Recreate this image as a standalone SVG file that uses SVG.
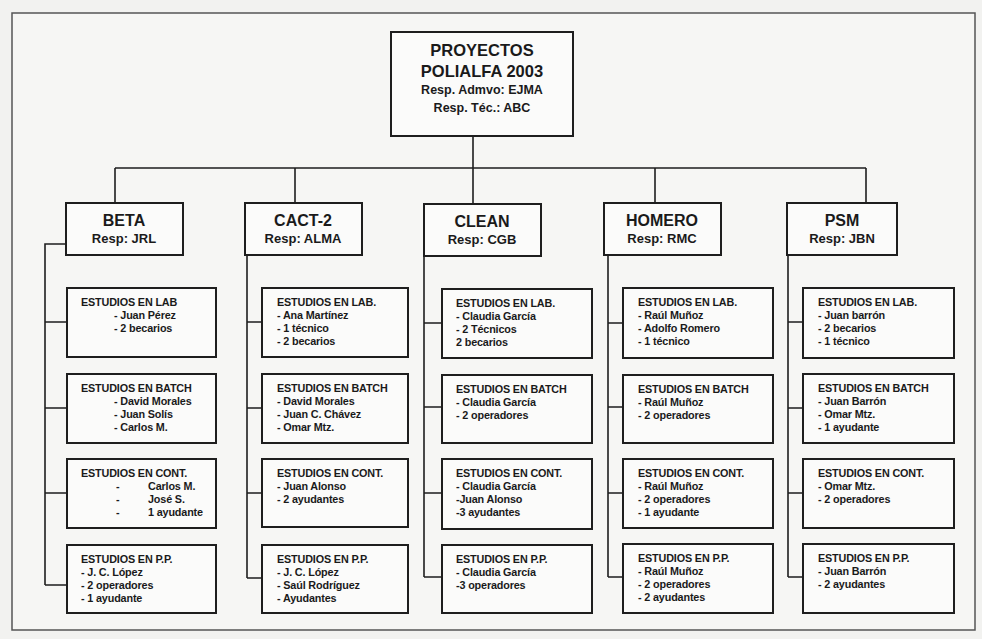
<svg xmlns="http://www.w3.org/2000/svg" width="982" height="639" viewBox="0 0 982 639">
  <style>
    .box { fill: #fbfbfa; stroke: #1e1e1e; stroke-width: 2; }
    .wire { fill: none; stroke: #1e1e1e; stroke-width: 1.6; }
    text { font-family: "Liberation Sans", Arial, sans-serif; fill: #1a1a1a; font-weight: bold; }
    .t1 { font-size: 16.5px; text-anchor: middle; }
    .t2 { font-size: 12.5px; text-anchor: middle; }
    .h1 { font-size: 16px; text-anchor: middle; }
    .h2 { font-size: 13px; text-anchor: middle; }
    .s { font-size: 10.8px; letter-spacing: -0.15px; }
  </style>
  <rect x="0" y="0" width="982" height="639" fill="#f2f2f0"/>
  <rect x="12" y="13" width="963" height="617" fill="#f6f6f4" stroke="#555" stroke-width="1.5"/>

  <!-- connectors -->
  <g id="connectors">
    <path class="wire" d="M473 136 V168 M115 168 H866 M115 168 V203 M295 168 V203 M473 168 V203 M655 168 V203 M866 168 V203"/>
    <path class="wire" d="M66 244 H45 V585 M45 322 H67 M45 408 H67 M45 493 H67 M45 585 H67"/>
    <path class="wire" d="M247 255 V578 M247 322 H262 M247 408 H262 M247 493 H262 M247 578 H262"/>
    <path class="wire" d="M424 255 V577 M424 323 H442 M424 407 H442 M424 493 H442 M424 577 H442"/>
    <path class="wire" d="M608 255 V577 M608 323 H623 M608 407 H623 M608 493 H623 M608 577 H623"/>
    <path class="wire" d="M788 255 V577 M788 322 H803 M788 408 H803 M788 493 H803 M788 577 H803"/>
  </g>

  <!-- root -->
  <g id="root">
    <rect class="box" x="391" y="32" width="182" height="104"/>
    <text class="t1" x="482" y="56">PROYECTOS</text>
    <text class="t1" x="482" y="77">POLIALFA 2003</text>
    <text class="t2" x="482" y="94">Resp. Admvo: EJMA</text>
    <text class="t2" x="482" y="112">Resp. Téc.: ABC</text>
  </g>

  <!-- project headers -->
  <g id="beta">
    <rect class="box" x="66" y="203" width="117" height="52"/>
    <text class="h1" x="124" y="226">BETA</text>
    <text class="h2" x="124" y="243">Resp: JRL</text>
  </g>
  <g id="cact2">
    <rect class="box" x="245" y="203" width="117" height="52"/>
    <text class="h1" x="303" y="226">CACT-2</text>
    <text class="h2" x="303" y="243">Resp: ALMA</text>
  </g>
  <g id="clean">
    <rect class="box" x="424" y="204" width="117" height="52"/>
    <text class="h1" x="482" y="227">CLEAN</text>
    <text class="h2" x="482" y="244">Resp: CGB</text>
  </g>
  <g id="homero">
    <rect class="box" x="604" y="203" width="117" height="52"/>
    <text class="h1" x="662" y="226">HOMERO</text>
    <text class="h2" x="662" y="243">Resp: RMC</text>
  </g>
  <g id="psm">
    <rect class="box" x="787" y="203" width="110" height="52"/>
    <text class="h1" x="842" y="226">PSM</text>
    <text class="h2" x="842" y="243">Resp: JBN</text>
  </g>

  <!-- BETA studies -->
  <g id="beta-lab">
    <rect class="box" x="67" y="288" width="149" height="69"/>
    <text class="s" x="81" y="306">ESTUDIOS EN LAB</text>
    <text class="s" x="114" y="319">- Juan Pérez</text>
    <text class="s" x="114" y="332">- 2 becarios</text>
  </g>
  <g id="beta-batch">
    <rect class="box" x="67" y="374" width="149" height="69"/>
    <text class="s" x="81" y="392">ESTUDIOS EN BATCH</text>
    <text class="s" x="114" y="405">- David Morales</text>
    <text class="s" x="114" y="418">- Juan Solís</text>
    <text class="s" x="114" y="431">- Carlos M.</text>
  </g>
  <g id="beta-cont">
    <rect class="box" x="67" y="459" width="149" height="69"/>
    <text class="s" x="81" y="477">ESTUDIOS EN  CONT.</text>
    <text class="s" x="116" y="490">-</text><text class="s" x="148" y="490">Carlos M.</text>
    <text class="s" x="116" y="503">-</text><text class="s" x="148" y="503">José S.</text>
    <text class="s" x="116" y="516">-</text><text class="s" x="148" y="516">1 ayudante</text>
  </g>
  <g id="beta-pp">
    <rect class="box" x="67" y="545" width="149" height="68"/>
    <text class="s" x="81" y="563">ESTUDIOS EN P.P.</text>
    <text class="s" x="81" y="576">- J. C. López</text>
    <text class="s" x="81" y="589">- 2 operadores</text>
    <text class="s" x="81" y="602">- 1 ayudante</text>
  </g>

  <!-- CACT-2 studies -->
  <g id="cact2-lab">
    <rect class="box" x="262" y="288" width="146" height="69"/>
    <text class="s" x="277" y="306">ESTUDIOS EN LAB.</text>
    <text class="s" x="277" y="319">- Ana Martínez</text>
    <text class="s" x="277" y="332">- 1 técnico</text>
    <text class="s" x="277" y="345">- 2 becarios</text>
  </g>
  <g id="cact2-batch">
    <rect class="box" x="262" y="374" width="146" height="69"/>
    <text class="s" x="277" y="392">ESTUDIOS EN BATCH</text>
    <text class="s" x="277" y="405">- David Morales</text>
    <text class="s" x="277" y="418">- Juan C. Chávez</text>
    <text class="s" x="277" y="431">- Omar Mtz.</text>
  </g>
  <g id="cact2-cont">
    <rect class="box" x="262" y="459" width="146" height="68"/>
    <text class="s" x="277" y="477">ESTUDIOS EN CONT.</text>
    <text class="s" x="277" y="490">- Juan Alonso</text>
    <text class="s" x="277" y="503">- 2 ayudantes</text>
  </g>
  <g id="cact2-pp">
    <rect class="box" x="262" y="545" width="146" height="68"/>
    <text class="s" x="277" y="563">ESTUDIOS EN P.P.</text>
    <text class="s" x="277" y="576">- J. C. López</text>
    <text class="s" x="277" y="589">- Saúl Rodríguez</text>
    <text class="s" x="277" y="602">- Ayudantes</text>
  </g>

  <!-- CLEAN studies -->
  <g id="clean-lab">
    <rect class="box" x="442" y="289" width="150" height="69"/>
    <text class="s" x="456" y="307">ESTUDIOS EN LAB.</text>
    <text class="s" x="456" y="320">- Claudia García</text>
    <text class="s" x="456" y="333">- 2 Técnicos</text>
    <text class="s" x="456" y="346">2 becarios</text>
  </g>
  <g id="clean-batch">
    <rect class="box" x="442" y="375" width="150" height="68"/>
    <text class="s" x="456" y="393">ESTUDIOS EN BATCH</text>
    <text class="s" x="456" y="406">- Claudia García</text>
    <text class="s" x="456" y="419">- 2 operadores</text>
  </g>
  <g id="clean-cont">
    <rect class="box" x="442" y="459" width="150" height="70"/>
    <text class="s" x="456" y="477">ESTUDIOS EN CONT.</text>
    <text class="s" x="456" y="490">- Claudia García</text>
    <text class="s" x="456" y="503">-Juan Alonso</text>
    <text class="s" x="456" y="516">-3 ayudantes</text>
  </g>
  <g id="clean-pp">
    <rect class="box" x="442" y="545" width="150" height="68"/>
    <text class="s" x="456" y="563">ESTUDIOS EN P.P.</text>
    <text class="s" x="456" y="576">- Claudia García</text>
    <text class="s" x="456" y="589">-3 operadores</text>
  </g>

  <!-- HOMERO studies -->
  <g id="homero-lab">
    <rect class="box" x="623" y="288" width="150" height="70"/>
    <text class="s" x="638" y="306">ESTUDIOS EN LAB.</text>
    <text class="s" x="638" y="319">- Raúl Muñoz</text>
    <text class="s" x="638" y="332">- Adolfo Romero</text>
    <text class="s" x="638" y="345">- 1 técnico</text>
  </g>
  <g id="homero-batch">
    <rect class="box" x="623" y="375" width="150" height="68"/>
    <text class="s" x="638" y="393">ESTUDIOS EN BATCH</text>
    <text class="s" x="638" y="406">- Raúl Muñoz</text>
    <text class="s" x="638" y="419">- 2 operadores</text>
  </g>
  <g id="homero-cont">
    <rect class="box" x="623" y="459" width="150" height="69"/>
    <text class="s" x="638" y="477">ESTUDIOS EN CONT.</text>
    <text class="s" x="638" y="490">- Raúl Muñoz</text>
    <text class="s" x="638" y="503">- 2 operadores</text>
    <text class="s" x="638" y="516">- 1 ayudante</text>
  </g>
  <g id="homero-pp">
    <rect class="box" x="623" y="544" width="150" height="69"/>
    <text class="s" x="638" y="562">ESTUDIOS EN P.P.</text>
    <text class="s" x="638" y="575">- Raúl Muñoz</text>
    <text class="s" x="638" y="588">- 2 operadores</text>
    <text class="s" x="638" y="601">- 2 ayudantes</text>
  </g>

  <!-- PSM studies -->
  <g id="psm-lab">
    <rect class="box" x="803" y="288" width="151" height="70"/>
    <text class="s" x="818" y="306">ESTUDIOS EN LAB.</text>
    <text class="s" x="818" y="319">- Juan barrón</text>
    <text class="s" x="818" y="332">- 2 becarios</text>
    <text class="s" x="818" y="345">- 1 técnico</text>
  </g>
  <g id="psm-batch">
    <rect class="box" x="803" y="374" width="151" height="69"/>
    <text class="s" x="818" y="392">ESTUDIOS EN BATCH</text>
    <text class="s" x="818" y="405">- Juan Barrón</text>
    <text class="s" x="818" y="418">- Omar Mtz.</text>
    <text class="s" x="818" y="431">- 1 ayudante</text>
  </g>
  <g id="psm-cont">
    <rect class="box" x="803" y="459" width="151" height="69"/>
    <text class="s" x="818" y="477">ESTUDIOS EN CONT.</text>
    <text class="s" x="818" y="490">- Omar Mtz.</text>
    <text class="s" x="818" y="503">- 2 operadores</text>
  </g>
  <g id="psm-pp">
    <rect class="box" x="803" y="544" width="151" height="69"/>
    <text class="s" x="818" y="562">ESTUDIOS EN P.P.</text>
    <text class="s" x="818" y="575">- Juan Barrón</text>
    <text class="s" x="818" y="588">- 2 ayudantes</text>
  </g>
</svg>
